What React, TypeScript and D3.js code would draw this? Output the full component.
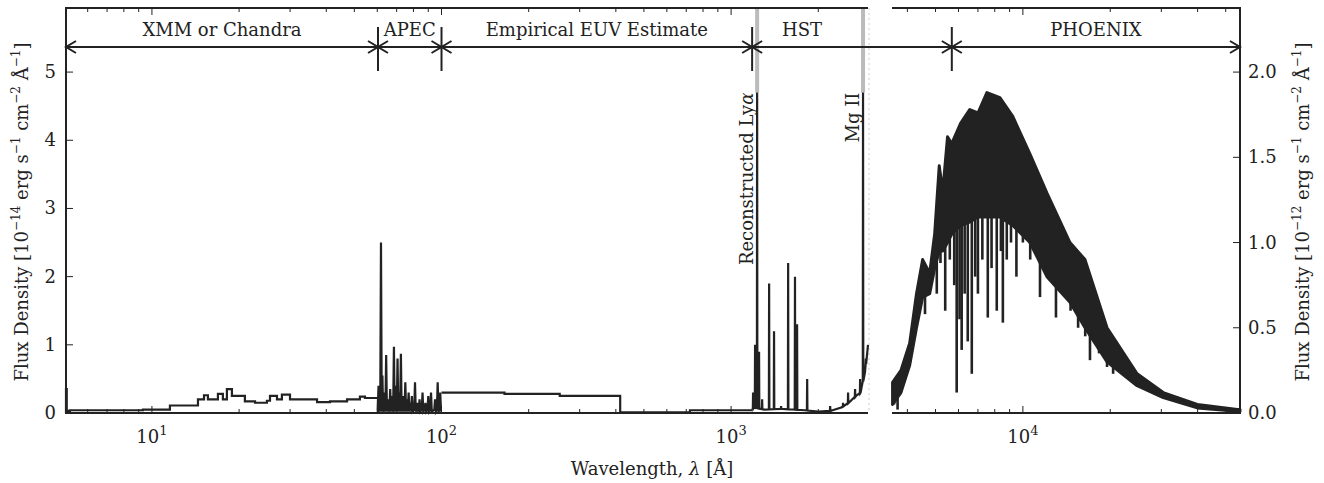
import React from 'react';
import * as d3 from 'd3';

// X-ray histogram (edges in Å, flux in 1e-14)
const xrayEdges = [5.05, 5.08, 5.21, 9.31, 11.54, 14.42, 15.13, 15.61, 16.9, 17.58, 18.15, 18.89, 20.94, 22.7, 24.95, 25.57, 27.03, 28.11, 29.98, 33.25, 37.17, 41.21, 47.18, 52.27, 54.4, 60.35];
const xrayFlux = [0.35, 0.03, 0.04, 0.05, 0.11, 0.2, 0.26, 0.2, 0.28, 0.2, 0.35, 0.25, 0.17, 0.15, 0.18, 0.25, 0.2, 0.27, 0.2, 0.2, 0.16, 0.17, 0.2, 0.24, 0.22, 0.0];
const xrayTail = { from: 54.4, to: 60.35, flux: 0.13 };

// APEC emission lines
const apecLam = [60.6, 61.0, 61.8, 62.5, 63.5, 64.4, 65.3, 66.5, 67.4, 68.5, 69.5, 70.5, 71.5, 72.4, 73.2, 74, 75, 76, 77, 78, 79, 81, 82.5, 84, 86, 88, 90, 92, 95, 97, 99];
const apecPeak = [0.4, 0.35, 2.5, 0.55, 0.3, 0.85, 0.2, 0.35, 0.25, 0.97, 0.4, 0.8, 0.3, 0.87, 0.2, 0.25, 0.45, 0.2, 0.3, 0.15, 0.25, 0.45, 0.15, 0.2, 0.3, 0.15, 0.25, 0.3, 0.2, 0.45, 0.3];

// Empirical EUV steps
const euvEdges = [100, 165, 256, 414, 721, 1182];
const euvFlux = [0.3, 0.28, 0.25, 0.01, 0.04];

// HST continuum + lines
const hstContLam = [1182, 1200, 1300, 1500, 1800, 2000, 2200, 2400, 2550, 2700, 2800, 2900, 2970];
const hstContFlux = [0.05, 0.08, 0.05, 0.06, 0.04, 0.02, 0.03, 0.08, 0.15, 0.25, 0.3, 0.6, 1.0];
const hstLineLam = [1191, 1210, 1230, 1249, 1280, 1353, 1407, 1488, 1574, 1662, 1690, 1831, 2198, 2436, 2535, 2680, 2790, 2855, 2921];
const hstLinePeak = [0.3, 1.0, 4.7, 0.9, 0.2, 1.9, 1.2, 0.1, 2.2, 2.0, 1.3, 0.5, 0.1, 0.15, 0.3, 0.35, 0.5, 4.7, 0.8];

// PHOENIX envelope (1e-12)
const phxLam = [3556, 3800, 4073, 4300, 4515, 4773, 4966, 5150, 5295, 5500, 5686, 6100, 6559, 7000, 7516, 8332, 9229, 10573, 12106, 14528, 16373, 19498, 24755, 30460, 39900, 54830, 56000];
const phxUpper = [0.18, 0.25, 0.41, 0.7, 0.9, 0.82, 1.05, 1.45, 1.3, 1.62, 1.58, 1.7, 1.78, 1.76, 1.88, 1.85, 1.74, 1.52, 1.29, 1.0, 0.9, 0.5, 0.23, 0.12, 0.05, 0.02, 0.02];
const phxLower = [0.05, 0.12, 0.28, 0.5, 0.68, 0.7, 0.85, 0.95, 0.95, 1.0, 1.05, 1.1, 1.12, 1.15, 1.15, 1.15, 1.1, 1.0, 0.8, 0.65, 0.5, 0.3, 0.16, 0.09, 0.03, 0.01, 0.01];
const phxDipLam = [3600, 3700, 3900, 4100, 4300, 4600, 4850, 5050, 5200, 5400, 5600, 5800, 5914, 6050, 6153, 6300, 6457, 6667, 6850, 7000, 7250, 7570, 7800, 8128, 8400, 8531, 8800, 9100, 9500, 10000, 10600, 11455, 12000, 12800, 13003, 13800, 14600, 15500, 16400, 17030, 18300, 19500, 20464, 22000];
const phxDipFlux = [0.05, 0.02, 0.2, 0.3, 0.55, 0.58, 0.8, 0.7, 0.88, 0.6, 0.9, 0.75, 0.12, 0.55, 0.37, 0.7, 0.42, 0.23, 0.8, 0.7, 0.9, 0.56, 0.85, 0.6, 0.95, 0.53, 0.9, 1.0, 0.8, 1.0, 0.9, 0.68, 0.85, 0.75, 0.56, 0.72, 0.6, 0.5, 0.45, 0.31, 0.35, 0.27, 0.23, 0.25];

const leftTicksY = [0, 1, 2, 3, 4, 5];
const rightTicksY = [0, 0.5, 1.0, 1.5, 2.0];

const regions = [
  { label: 'XMM or Chandra', from: 5.05, to: 60.35 },
  { label: 'APEC', from: 60.35, to: 100 },
  { label: 'Empirical EUV Estimate', from: 100, to: 1182 },
  { label: 'HST', from: 1182, to: 5690 },
  { label: 'PHOENIX', from: 5690, to: 56000 },
];

const C = '#222';
const FONT = '"DejaVu Serif", "Liberation Serif", serif';

export default function App() {
  const top = 8, bottom = 413;
  const xL = d3.scaleLog().domain([5.05, 2970]).range([66, 868]);
  const xR = d3.scaleLog().domain([3540, 56000]).range([892, 1240]);
  const yL = d3.scaleLinear().domain([0, 5.94]).range([bottom, top]);
  const yR = d3.scaleLinear().domain([0, 2.376]).range([bottom, top]);
  const xAny = (l: number) => (l < 3200 ? xL(l) : xR(l));

  const xrayPts: [number, number][] = [[xL(xrayEdges[0]), yL(0)]];
  xrayFlux.forEach((f, i) => {
    xrayPts.push([xL(xrayEdges[i]), yL(f)], [xL(xrayEdges[i + 1]), yL(f)]);
  });
  xrayPts.push([xL(xrayTail.from), yL(xrayTail.flux)], [xL(xrayTail.to), yL(xrayTail.flux)]);
  const line = d3.line();

  const apecPts: [number, number][] = [];
  apecLam.forEach((l, i) => {
    apecPts.push([xL(l * 0.994), yL(0.05)], [xL(l), yL(apecPeak[i])], [xL(l * 1.006), yL(0.02)]);
  });

  const euvPts: [number, number][] = [];
  euvFlux.forEach((f, i) => {
    euvPts.push([xL(euvEdges[i]), yL(f)], [xL(euvEdges[i + 1]), yL(f)]);
  });

  const contAt = d3.scaleLog().domain(hstContLam).range(hstContFlux);
  const hstPts: [number, number][] = [];
  const hstAll = [...hstContLam.map((l) => ({ l, f: contAt(l), spike: false })), ...hstLineLam.map((l, i) => ({ l, f: hstLinePeak[i], spike: true }))].sort((a, b) => a.l - b.l);
  hstAll.forEach((p) => {
    if (p.spike) {
      hstPts.push([xL(p.l * 0.998), yL(contAt(p.l))], [xL(p.l), yL(p.f)], [xL(p.l * 1.002), yL(contAt(p.l))]);
    } else hstPts.push([xL(p.l), yL(p.f)]);
  });

  const area = d3.area<number>()
    .x((_, i) => xR(phxLam[i]))
    .y0((_, i) => yR(phxLower[i]))
    .y1((_, i) => yR(phxUpper[i]));
  const lowAt = d3.scaleLog().domain(phxLam).range(phxLower);

  const arrowY = 47;
  const chevron = (x: number, dir: number) => `M${x + dir * 10},${arrowY - 6}L${x},${arrowY}L${x + dir * 10},${arrowY + 6}`;
  const bounds = [60.35, 100, 1182, 5690];
  const ts = { fontFamily: FONT };

  return (
    <svg width={1324} height={483} style={{ position: 'absolute', left: 0, top: 0, background: '#fff', fontFamily: FONT }}>
      {[1230, 2855].map((l) => (
        <line key={l} x1={xL(l)} x2={xL(l)} y1={top} y2={yL(4.7)} stroke="#bbb" strokeWidth={4} />
      ))}
      <line x1={869} x2={869} y1={top} y2={bottom} stroke="#ccc" strokeWidth={1} strokeDasharray="2,3" />

      <path d={line(xrayPts)!} fill="none" stroke={C} strokeWidth={2.2} />
      <path d={line(apecPts)!} fill="none" stroke={C} strokeWidth={2.2} />
      <path d={line(euvPts)!} fill="none" stroke={C} strokeWidth={2.2} />
      <path d={line(hstPts)!} fill="none" stroke={C} strokeWidth={2.2} />
      <path d={area(phxLam)!} fill={C} stroke={C} strokeWidth={3} strokeLinejoin="round" />
      {phxDipLam.map((l, i) => (
        <line key={l} x1={xR(l)} x2={xR(l)} y1={yR(lowAt(l)) - 2} y2={yR(phxDipFlux[i])} stroke={C} strokeWidth={2.6} />
      ))}

      <path d={`M868,${top}H66V${bottom}H868`} fill="none" stroke={C} strokeWidth={2} />
      <path d={`M892,${top}H1240V${bottom}H892`} fill="none" stroke={C} strokeWidth={2} />

      {[xL, xR].map((sc, k) => {
        const [d0, d1] = sc.domain();
        const ticks = sc.ticks().filter((t) => t >= d0 && t <= d1);
        return ticks.map((t) => {
          const major = Math.abs(Math.log10(t) - Math.round(Math.log10(t))) < 1e-6;
          const len = major ? 7 : 4;
          const x = sc(t);
          return (
            <g key={`${k}-${t}`}>
              <line x1={x} x2={x} y1={bottom} y2={bottom - len} stroke={C} strokeWidth={1} />
              <line x1={x} x2={x} y1={top} y2={top + len} stroke={C} strokeWidth={1} />
              {major && (
                <text style={ts} x={x} y={bottom + 30} textAnchor="middle" fontSize={18} fill={C}>
                  10<tspan dy={-8} fontSize={13}>{Math.round(Math.log10(t))}</tspan>
                </text>
              )}
            </g>
          );
        });
      })}

      {leftTicksY.map((t) => (
        <g key={t}>
          <line x1={66} x2={73} y1={yL(t)} y2={yL(t)} stroke={C} />
          <text style={ts} x={56} y={yL(t) + 6} textAnchor="end" fontSize={18} fill={C}>{t}</text>
        </g>
      ))}
      {rightTicksY.map((t) => (
        <g key={t}>
          <line x1={1233} x2={1240} y1={yR(t)} y2={yR(t)} stroke={C} />
          <text style={ts} x={1248} y={yR(t) + 6} fontSize={18} fill={C}>{t.toFixed(1)}</text>
        </g>
      ))}

      <text style={ts} x={652} y={475} textAnchor="middle" fontSize={18} fill={C}>
        Wavelength, <tspan fontStyle="italic">λ</tspan> [Å]
      </text>
      <text style={ts} transform="translate(28,212) rotate(-90)" textAnchor="middle" fontSize={18} fill={C}>
        Flux Density [10<tspan dy={-8} fontSize={12}>−14</tspan><tspan dy={8}> erg s</tspan><tspan dy={-8} fontSize={12}>−1</tspan><tspan dy={8}> cm</tspan><tspan dy={-8} fontSize={12}>−2</tspan><tspan dy={8}> Å</tspan><tspan dy={-8} fontSize={12}>−1</tspan><tspan dy={8}>]</tspan>
      </text>
      <text style={ts} transform="translate(1309,212) rotate(-90)" textAnchor="middle" fontSize={18} fill={C}>
        Flux Density [10<tspan dy={-8} fontSize={12}>−12</tspan><tspan dy={8}> erg s</tspan><tspan dy={-8} fontSize={12}>−1</tspan><tspan dy={8}> cm</tspan><tspan dy={-8} fontSize={12}>−2</tspan><tspan dy={8}> Å</tspan><tspan dy={-8} fontSize={12}>−1</tspan><tspan dy={8}>]</tspan>
      </text>

      {regions.map((r) => {
        const x0 = xAny(r.from), x1 = xAny(r.to);
        return (
          <g key={r.label}>
            <line x1={x0} x2={x1} y1={arrowY} y2={arrowY} stroke={C} strokeWidth={2} />
            <path d={chevron(x0, 1)} fill="none" stroke={C} strokeWidth={2} />
            <path d={chevron(x1, -1)} fill="none" stroke={C} strokeWidth={2} />
            <text style={ts} x={(x0 + x1) / 2 + (r.label === 'HST' ? -50 : 0)} y={36} textAnchor="middle" fontSize={18} fill={C}>{r.label}</text>
          </g>
        );
      })}
      {bounds.map((b) => (
        <line key={b} x1={xAny(b)} x2={xAny(b)} y1={27} y2={71} stroke={C} strokeWidth={2} />
      ))}

      <text style={ts} transform={`translate(${xL(1230) - 4},${yL(4.7)}) rotate(-90)`} textAnchor="end" fontSize={18} fill={C}>
        Reconstructed Ly<tspan fontStyle="italic">α</tspan>
      </text>
      <text style={ts} transform={`translate(${xL(2855) - 4},${yL(4.7)}) rotate(-90)`} textAnchor="end" fontSize={18} fill={C}>
        Mg II
      </text>
    </svg>
  );
}
